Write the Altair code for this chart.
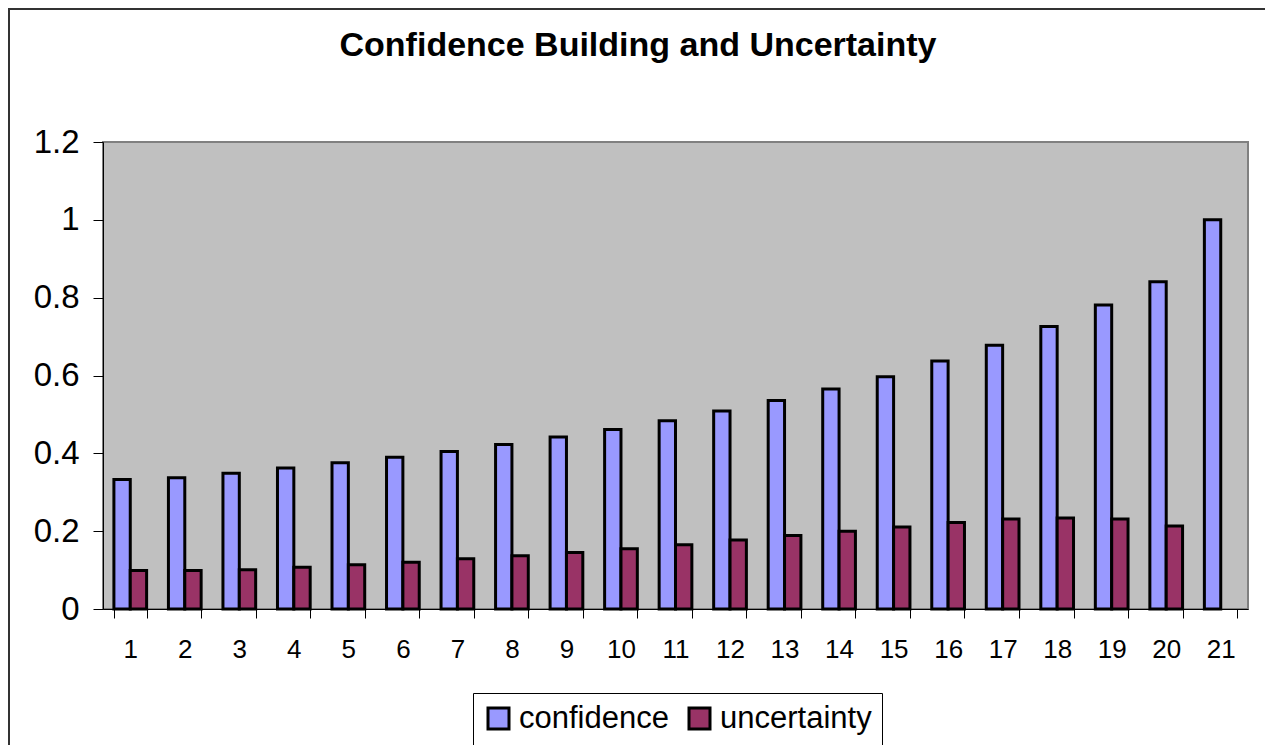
import altair as alt
import pandas as pd

steps = [str(i) for i in range(1, 22)]
confidence = [0.333, 0.337, 0.349, 0.362, 0.376, 0.390, 0.405, 0.423, 0.442, 0.461,
              0.484, 0.509, 0.536, 0.565, 0.597, 0.637, 0.678, 0.726, 0.781, 0.841, 1.0]
uncertainty = [0.099, 0.099, 0.101, 0.107, 0.114, 0.120, 0.129, 0.137, 0.145, 0.155,
               0.165, 0.177, 0.189, 0.200, 0.211, 0.222, 0.231, 0.234, 0.231, 0.213, None]
series = ["confidence", "uncertainty"]
colors = ["#9999FF", "#993366"]
y_ticks = [0, 0.2, 0.4, 0.6, 0.8, 1.0, 1.2]
title_text = "Confidence Building and Uncertainty"

rows = []
for s, c, u in zip(steps, confidence, uncertainty):
    rows.append({"step": s, "series": "confidence", "value": c})
    if u is not None:
        rows.append({"step": s, "series": "uncertainty", "value": u})
df = pd.DataFrame(rows)
one = pd.DataFrame({"k": [0]})

W, H = 1145, 467
FONT = "Liberation Sans"

bars = alt.Chart(df).mark_bar(stroke="black", strokeWidth=3).encode(
    x=alt.X("step:N", sort=steps,
            scale=alt.Scale(paddingInner=0.4, paddingOuter=0.2),
            axis=alt.Axis(title=None, labelAngle=0, tickBand="extent", tickSize=9,
                          labelFontSize=26, labelPadding=18)),
    xOffset=alt.XOffset("series:N", sort=series,
                        scale=alt.Scale(domain=series, paddingInner=0, paddingOuter=0)),
    y=alt.Y("value:Q", scale=alt.Scale(domain=[0, 1.2], nice=False),
            axis=alt.Axis(title=None, values=y_ticks, format="~g", tickSize=10,
                          labelFontSize=33, labelPadding=14)),
    color=alt.Color("series:N", sort=series,
                    scale=alt.Scale(domain=series, range=colors),
                    legend=alt.Legend(orient="none", legendX=370, legendY=551,
                                      direction="horizontal", title=None,
                                      symbolType="square", symbolSize=441,
                                      symbolStrokeColor="black", symbolStrokeWidth=3,
                                      symbolOpacity=1,
                                      labelFontSize=31, labelFont=FONT, labelColor="black",
                                      strokeColor="black", fillColor="white",
                                      padding=10, columnPadding=14, labelOffset=5)),
)

frame = alt.Chart(one).mark_rect(filled=False, stroke="#333333", strokeWidth=2).encode(
    x=alt.value(-94), x2=alt.value(1164), y=alt.value(-133), y2=alt.value(H + 160)
)

title = alt.Chart(one).mark_text(
    text=title_text, font=FONT, fontSize=34, fontWeight="bold",
    baseline="alphabetic", align="center", color="black"
).encode(x=alt.value(535), y=alt.value(-86))

chart = alt.layer(frame, title, bars).properties(
    width=W, height=H,
    padding={"left": 95, "top": 134, "right": 17, "bottom": 136},
    autosize=alt.AutoSizeParams(type="none"),
    background="white",
).configure_view(
    stroke="#808080", strokeWidth=2, fill="#C0C0C0"
).configure_axis(
    domainColor="black", tickColor="black", labelColor="black",
    labelFont=FONT, grid=False, domainWidth=1, tickWidth=1
)

chart.save("out.html", embed_options={"renderer": "svg", "actions": False})
